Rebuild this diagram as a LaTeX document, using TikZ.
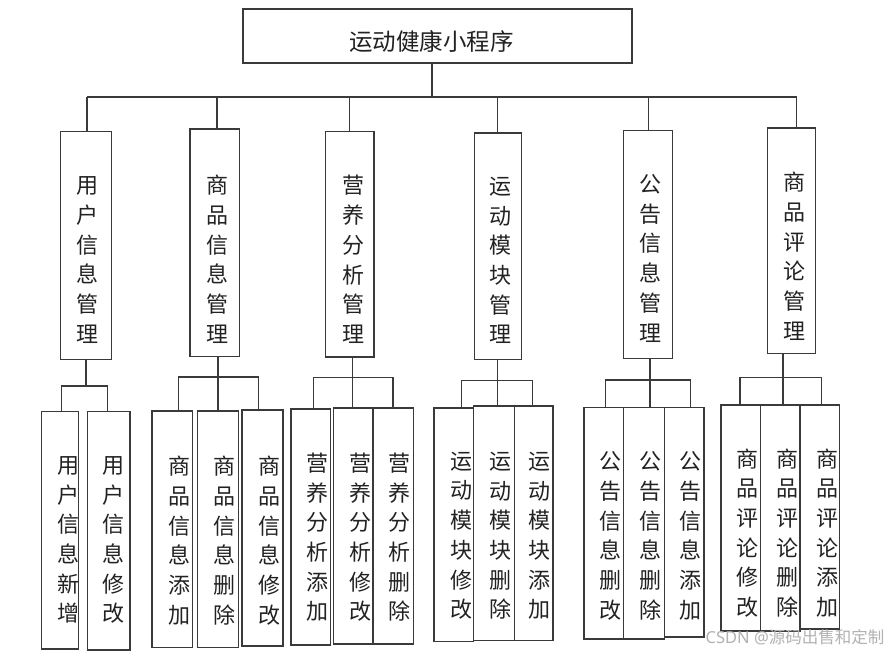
\documentclass[tikz,border=0pt]{standalone}
\usepackage{fontspec}
\newfontfamily\cjk{Noto Sans CJK SC}
\newfontfamily\lat{Noto Sans}
\definecolor{ln}{HTML}{3A3A3A}
\definecolor{tx}{HTML}{222222}
\begin{document}
\begin{tikzpicture}[x=1pt,y=-1pt,
  box/.style={draw=ln,line width=1.2pt,inner sep=0pt,outer sep=0pt,fill=white},
  vt/.style={text=tx,inner sep=0pt,align=center,font={\cjk\fontsize{22}{29.7}\selectfont}},
  ttl/.style={text=tx,inner sep=0pt,font={\cjk\fontsize{23.5}{26}\selectfont}},
  con/.style={draw=ln,line width=1.2pt}]
\useasboundingbox[fill=white] (0,0) rectangle (890,653);
% top
\node[box,minimum width=389pt,minimum height=54pt] (top) at (437.5,36) {};
\node[ttl] (topt) at (431.7,41) {运动健康小程序};
% level 2 boxes
\node[box,minimum width=50.6pt,minimum height=228pt] (b1) at (86,245.7) {};
\node[box,minimum width=49.7pt,minimum height=227.3pt] (b2) at (214.85,242.65) {};
\node[box,minimum width=48.3pt,minimum height=225.3pt] (b3) at (349.85,244.35) {};
\node[box,minimum width=47pt,minimum height=226.3pt] (b4) at (498.2,246.15) {};
\node[box,minimum width=49pt,minimum height=227.6pt] (b5) at (648.2,244.5) {};
\node[box,minimum width=48pt,minimum height=225.3pt] (b6) at (791.7,240.65) {};
\node[vt] (b1t) at (87.5,260) {用\\户\\信\\息\\管\\理};
\node[vt] (b2t) at (217.5,259.2) {商\\品\\信\\息\\管\\理};
\node[vt] (b3t) at (353.3,259.5) {营\\养\\分\\析\\管\\理};
\node[vt] (b4t) at (500.8,260.5) {运\\动\\模\\块\\管\\理};
\node[vt] (b5t) at (650.8,258.3) {公\\告\\信\\息\\管\\理};
\node[vt] (b6t) at (794.8,256.2) {商\\品\\评\\论\\管\\理};
% level 3 boxes
\node[box,minimum width=37pt,minimum height=237.7pt] (c11) at (60.2,530.15) {};
\node[box,minimum width=42.7pt,minimum height=238.7pt] (c12) at (108.65,530.65) {};
\node[box,minimum width=40.7pt,minimum height=236.3pt] (c21) at (172.35,529.15) {};
\node[box,minimum width=40.6pt,minimum height=236.3pt] (c22) at (218,529.15) {};
\node[box,minimum width=41pt,minimum height=236pt] (c23) at (262.5,528) {};
\node[box,minimum width=39.7pt,minimum height=236pt] (c31) at (310.85,527) {};
\node[box,minimum width=39.3pt,minimum height=236pt] (c32) at (353.35,526) {};
\node[box,minimum width=40.7pt,minimum height=236pt] (c33) at (393.35,526) {};
\node[box,minimum width=39.3pt,minimum height=233.7pt] (c41) at (453.65,524.85) {};
\node[box,minimum width=41.4pt,minimum height=234.3pt] (c42) at (494,523.15) {};
\node[box,minimum width=38.3pt,minimum height=234.3pt] (c43) at (533.85,523.15) {};
\node[box,minimum width=39.7pt,minimum height=231.3pt] (c51) at (603.85,523.35) {};
\node[box,minimum width=40.6pt,minimum height=231.3pt] (c52) at (644,523.35) {};
\node[box,minimum width=39.7pt,minimum height=229.3pt] (c53) at (684.15,522.35) {};
\node[box,minimum width=39.7pt,minimum height=226pt] (c61) at (740.85,518) {};
\node[box,minimum width=39.3pt,minimum height=226pt] (c62) at (780.35,518) {};
\node[box,minimum width=39.3pt,minimum height=224pt] (c63) at (819.65,517) {};
\node[vt] (c11t) at (68,540) {用\\户\\信\\息\\新\\增};
\node[vt] (c12t) at (113.3,540) {用\\户\\信\\息\\修\\改};
\node[vt] (c21t) at (179,540.5) {商\\品\\信\\息\\添\\加};
\node[vt] (c22t) at (224.3,540.5) {商\\品\\信\\息\\删\\除};
\node[vt] (c23t) at (269,540.5) {商\\品\\信\\息\\修\\改};
\node[vt] (c31t) at (317,537.3) {营\\养\\分\\析\\添\\加};
\node[vt] (c32t) at (360,537.3) {营\\养\\分\\析\\修\\改};
\node[vt] (c33t) at (399.7,537.3) {营\\养\\分\\析\\删\\除};
\node[vt] (c41t) at (461.3,535.8) {运\\动\\模\\块\\修\\改};
\node[vt] (c42t) at (500.3,535.8) {运\\动\\模\\块\\删\\除};
\node[vt] (c43t) at (539,535.8) {运\\动\\模\\块\\添\\加};
\node[vt] (c51t) at (610,535.8) {公\\告\\信\\息\\删\\改};
\node[vt] (c52t) at (650.3,535.8) {公\\告\\信\\息\\删\\除};
\node[vt] (c53t) at (690.5,535.8) {公\\告\\信\\息\\添\\加};
\node[vt] (c61t) at (747.5,533) {商\\品\\评\\论\\修\\改};
\node[vt] (c62t) at (787.5,533) {商\\品\\评\\论\\删\\除};
\node[vt] (c63t) at (827,533) {商\\品\\评\\论\\添\\加};
% level 1 -> 2 connectors
\coordinate (bus) at (432,97);
\coordinate (u1) at ([xshift=1pt]b1.north);
\coordinate (u2) at ([xshift=2.15pt]b2.north);
\coordinate (u3) at (b3.north);
\coordinate (u4) at ([xshift=-0.5pt]b4.north);
\coordinate (u5) at ([xshift=0.5pt]b5.north);
\coordinate (u6) at ([xshift=5pt]b6.north);
\draw[con] ([xshift=-5.5pt]top.south) -- ([xshift=-5.5pt]top.south |- bus);
\draw[con] (u1 |- bus) -- (u6 |- bus);
\foreach \u in {u1,u2,u3,u4,u5,u6} \draw[con] (\u) -- (\u |- bus);
% group 1
\coordinate (j1) at (86,386);
\coordinate (d11) at ([xshift=1.5pt]c11.north);
\coordinate (d12) at ([xshift=-0.95pt]c12.north);
\draw[con] (b1.south) -- (b1.south |- j1);
\draw[con] (d11) -- (d11 |- j1) -- (d12 |- j1) -- (d12);
% group 2
\coordinate (j2) at (218,377);
\coordinate (d21) at ([xshift=5.95pt]c21.north);
\coordinate (d23) at ([xshift=-3.8pt]c23.north);
\draw[con] ([xshift=3.15pt]b2.south) -- (c22.north);
\draw[con] (d21) -- (d21 |- j2) -- (d23 |- j2) -- (d23);
% group 3
\coordinate (j3) at (352.3,377.7);
\coordinate (d31) at ([xshift=2.85pt]c31.north);
\coordinate (d33) at ([xshift=-0.35pt]c33.north);
\draw[con] ([xshift=2.45pt]b3.south) -- ([xshift=-1.05pt]c32.north);
\draw[con] (d31) -- (d31 |- j3) -- (d33 |- j3) -- (d33);
% group 4
\coordinate (j4) at (497.3,380.3);
\coordinate (d41) at ([xshift=8.05pt]c41.north);
\coordinate (d43) at ([xshift=-1.55pt]c43.north);
\draw[con] ([xshift=-0.9pt]b4.south) -- ([xshift=3.3pt]c42.north);
\draw[con] (d41) -- (d41 |- j4) -- (d43 |- j4) -- (d43);
% group 5
\coordinate (j5) at (650,380);
\coordinate (d51) at ([xshift=1.85pt]c51.north);
\coordinate (d53) at ([xshift=6.55pt]c53.north);
\draw[con] ([xshift=1.8pt]b5.south) -- ([xshift=6pt]c52.north);
\draw[con] (d51) -- (d51 |- j5) -- (d53 |- j5) -- (d53);
% group 6
\coordinate (j6) at (783,377.3);
\coordinate (d61) at ([xshift=-0.85pt]c61.north);
\coordinate (d63) at ([xshift=2.05pt]c63.north);
\draw[con] ([xshift=-8.7pt]b6.south) -- ([xshift=2.65pt]c62.north);
\draw[con] (d61) -- (d61 |- j6) -- (d63 |- j6) -- (d63);
% watermark
\node[text=black!30,inner sep=0pt,font={\cjk\fontsize{16.5}{16.5}\selectfont}] (wm) at (795,637.5) {{\lat CSDN @}源码出售和定制};
\end{tikzpicture}
\end{document}
